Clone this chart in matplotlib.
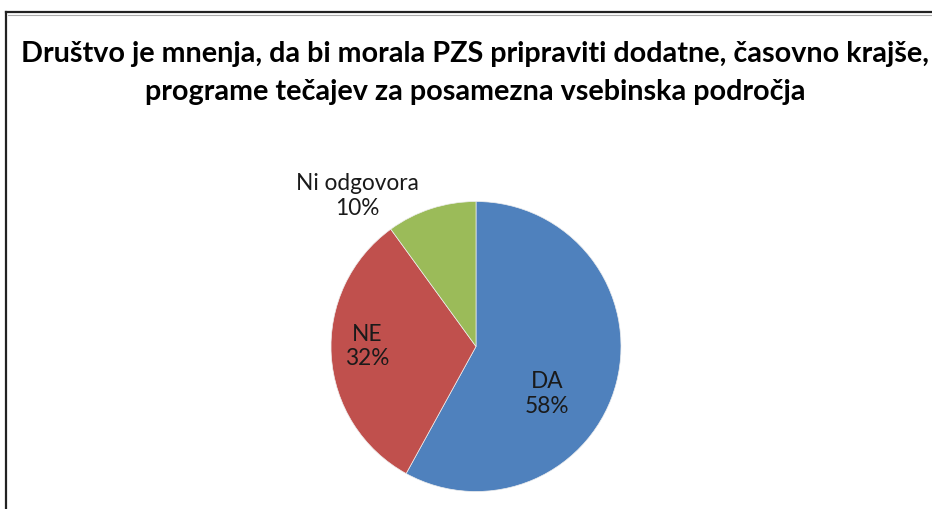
import matplotlib.pyplot as plt
from matplotlib.lines import Line2D

categories = ['DA', 'NE', 'Ni odgovora']
shares = [58, 32, 10]
colors = ['#4F81BD', '#C0504D', '#9BBB59']
title = ('Društvo je mnenja, da bi morala PZS pripraviti dodatne, časovno krajše,\n'
         'programe tečajev za posamezna vsebinska področja')

W, H = 932, 509
fig = plt.figure(figsize=(W / 100, H / 100), dpi=100)

# outer chart frame (cut off at right and bottom)
fig.add_artist(Line2D([6 / W, 6 / W], [0, 1 - 12 / H], color='#222222', lw=1.6))
fig.add_artist(Line2D([6 / W, 1], [1 - 12 / H, 1 - 12 / H], color='#222222', lw=1.6))
fig.add_artist(Line2D([8 / W, 1], [1 - 14.5 / H, 1 - 14.5 / H], color='#aaaaaa', lw=0.8))

fig.text(475 / W, 1 - 73 / H, title, ha='center', va='center', fontsize=20.7,
         fontweight='bold', family='Lato', linespacing=1.53, color='#000000')

# pie area: centre (476, 346), radius 145 px
cx, cy, r = 476, 346.5, 145
ax = fig.add_axes([(cx - r) / W, (H - cy - r) / H, 2 * r / W, 2 * r / H])
wedges, _ = ax.pie(shares, colors=colors, startangle=90, counterclock=False,
                   wedgeprops=dict(linewidth=0.5, edgecolor='#eeeeee'))
ax.set_xlim(-1, 1)
ax.set_ylim(-1, 1)

label_pos = [(0.49, -0.33), (-0.75, 0.0), (-0.82, 1.04)]
for name, val, (x, y) in zip(categories, shares, label_pos):
    ax.text(x, y, f'{name}\n{val}%', ha='center', va='center', fontsize=16.3,
            family='Lato', color='#1a1a1a', linespacing=1.23)

fig.savefig('out.png', dpi=100)
